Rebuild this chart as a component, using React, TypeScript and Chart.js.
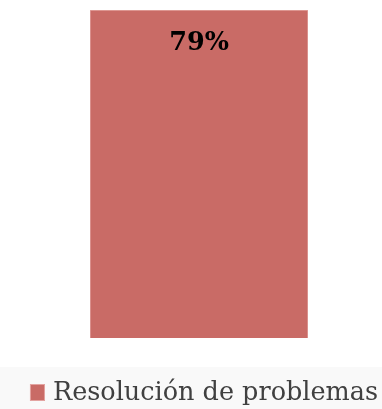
import React, { useEffect, useRef } from "react";
import { Chart, registerables } from "chart.js";

Chart.register(...registerables);

const categories = ["Resolución de problemas"];
const seriesLabel = "Resolución de problemas";
const seriesValues = [79];
const valueLabels = ["79%"];

const FILL = "#c96b66";
const BORDER = "#e3a4a1";
const FONT = "'DejaVu Serif', Georgia, serif";

const valueLabelPlugin = {
  id: "valueLabel",
  afterDatasetsDraw(chart: any) {
    const ctx = chart.ctx;
    const meta = chart.getDatasetMeta(0);
    ctx.save();
    ctx.font = `bold 25.5px ${FONT}`;
    ctx.fillStyle = "#000000";
    ctx.textAlign = "center";
    ctx.textBaseline = "middle";
    meta.data.forEach((bar: any, i: number) => {
      ctx.fillText(valueLabels[i], bar.x, bar.y + 33);
    });
    ctx.restore();
  },
};

const legendPlugin = {
  id: "customLegend",
  afterDraw(chart: any) {
    const ctx = chart.ctx;
    const ds = chart.data.datasets[0];
    const area = chart.chartArea;
    const top = area.bottom + 29;
    ctx.save();
    ctx.fillStyle = "#f9f9f9";
    ctx.fillRect(0, top, chart.width, chart.height - top);
    ctx.font = `25.5px ${FONT}`;
    const text = ds.label;
    const tw = ctx.measureText(text).width;
    const box = 15;
    const gap = 8;
    const total = box + gap + tw;
    const cx = (area.left + area.right) / 2 + 5;
    const x0 = cx - total / 2;
    const cy = top + 25;
    ctx.fillStyle = ds.backgroundColor;
    ctx.fillRect(x0, cy - 8, box, 17);
    ctx.strokeStyle = ds.borderColor;
    ctx.lineWidth = 1;
    ctx.strokeRect(x0 + 0.5, cy - 7.5, box - 1, 16);
    ctx.fillStyle = "#404040";
    ctx.textAlign = "left";
    ctx.textBaseline = "middle";
    ctx.fillText(text, x0 + box + gap, cy + 1);
    ctx.restore();
  },
};

export default function App() {
  const ref = useRef<HTMLCanvasElement | null>(null);
  useEffect(() => {
    if (!ref.current) return;
    const chart = new Chart(ref.current, {
      type: "bar",
      data: {
        labels: categories,
        datasets: [
          {
            label: seriesLabel,
            data: seriesValues,
            backgroundColor: FILL,
            borderColor: BORDER,
            borderWidth: 1,
            barPercentage: 1,
            categoryPercentage: 1,
          },
        ],
      },
      options: {
        animation: false,
        responsive: false,
        maintainAspectRatio: false,
        layout: { padding: { top: 10, left: 90, right: 74, bottom: 71 } },
        scales: {
          x: { display: false },
          y: { display: false, min: 0, max: 79 },
        },
        plugins: {
          legend: { display: false },
          tooltip: { enabled: false },
        },
      },
      plugins: [valueLabelPlugin, legendPlugin],
    });
    return () => chart.destroy();
  }, []);
  return (
    <div style={{ position: "absolute", left: 0, top: 0, width: 382, height: 409, background: "#fff" }}>
      <canvas ref={ref} width={382} height={409} style={{ display: "block" }} />
    </div>
  );
}
